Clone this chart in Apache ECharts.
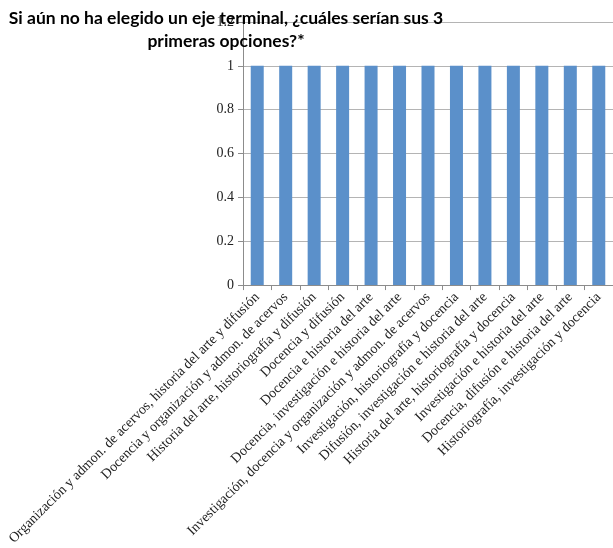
<!DOCTYPE html>
<html>
<head>
<meta charset="utf-8">
<script src="https://cdn.jsdelivr.net/npm/echarts@6/dist/echarts.min.js"></script>
<style>html,body{margin:0;padding:0;background:#fff}#c{width:613px;height:548px}</style>
</head>
<body>
<div id="c"></div>
<script>
const titleLines = ["Si aún no ha elegido un eje terminal, ¿cuáles serían sus 3", "primeras opciones?*"];
const categories = [
  "Organización y admon. de acervos, historia del arte y difusión",
  "Docencia y organización y admon. de acervos",
  "Historia del arte, historiografía y difusión",
  "Docencia y difusión",
  "Docencia e historia del arte",
  "Docencia, investigación e historia del arte",
  "Investigación, docencia y organización y admon. de acervos",
  "Investigación, historiografía y docencia",
  "Difusión, investigación e historia del arte",
  "Historia del arte, historiografía y docencia",
  "Investigación e historia del arte",
  "Docencia, difusión e historia del arte",
  "Historiografía, investigación y docencia"
];
const values = [1, 1, 1, 1, 1, 1, 1, 1, 1, 1, 1, 1, 1];
const yTicks = { min: 0, max: 1.2, interval: 0.2 };

const chart = echarts.init(document.getElementById('c'), null, { renderer: 'canvas' });
chart.setOption({
  animation: false,
  title: {
    text: titleLines.join('\n'),
    left: 221,
    top: 2,
    textAlign: 'center',
    z: 10,
    textStyle: {
      fontFamily: 'Lato',
      fontWeight: 'bold',
      fontSize: 17.5,
      lineHeight: 23,
      color: '#000'
    }
  },
  grid: { left: 243, top: 22, bottom: 262, right: -8, containLabel: false },
  xAxis: {
    type: 'category',
    data: categories,
    axisLine: { lineStyle: { color: '#8c8c8c', width: 1 } },
    axisTick: { show: true, alignWithLabel: false, length: 5, lineStyle: { color: '#8c8c8c' } },
    axisLabel: {
      interval: 0,
      rotate: 45,
      margin: 10,
      fontFamily: 'Liberation Serif',
      fontSize: 14,
      color: '#222'
    }
  },
  yAxis: {
    type: 'value',
    min: yTicks.min,
    max: yTicks.max,
    interval: yTicks.interval,
    axisLine: { show: true, lineStyle: { color: '#8c8c8c', width: 1 } },
    axisTick: { show: true, length: 5, lineStyle: { color: '#8c8c8c' } },
    splitLine: { show: true, lineStyle: { color: '#b4b4b4', width: 1 } },
    axisLabel: {
      margin: 9,
      fontFamily: 'Liberation Serif',
      fontSize: 14,
      color: '#222',
      formatter: v => String(Math.round(v * 10) / 10)
    }
  },
  series: [{
    type: 'bar',
    data: values,
    barWidth: 13,
    itemStyle: { color: '#5b90ca' }
  }]
});
</script>
</body>
</html>
